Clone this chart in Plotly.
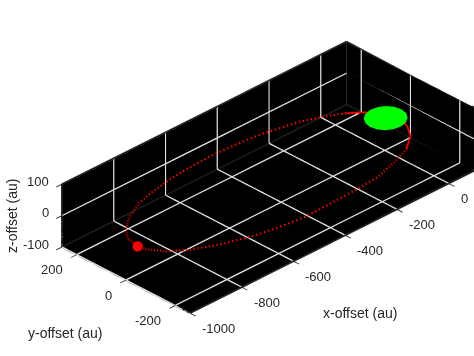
import plotly.graph_objects as go

orbit_x = [-954.1,-953.2,-934.8,-887.1,-818.2,-760.2,-697.5,-624.6,-508.8,-434,-385,-314.1,-200.4,-129.7,-64.9,-14.1,6,46.5,44.3,19.9,-30.8,-99.4,-183.4,-274.3,-375.2,-474.9,-564.7,-644.4,-751.1,-846.7,-901.6,-945.4,-954.1]
orbit_y = [1.1,39.3,69,106.7,137,149.4,160.1,167.7,172.5,168.9,167,159.3,140.4,119.3,93.5,65.3,45.7,-1,-43.2,-84,-119.8,-141.8,-162.3,-168.2,-171.1,-172.8,-164.3,-152.4,-126.5,-92.1,-61.3,-19.5,1.1]
orbit_z = [-11.7,-4,1.9,9.4,15.5,18,20.1,21.6,22.6,21.9,21.5,19.9,16.2,11.9,6.8,1.1,-2.8,-12.1,-20.6,-28.7,-35.9,-40.3,-44.4,-45.6,-46.1,-46.5,-44.8,-42.4,-37.2,-30.3,-24.2,-15.8,-11.7]
solid_from, solid_to = 14, 21
disc_x = [29.6,8.3,-16.2,-40.8,-61.5,-74.8,-79.2,-73.7,-59.2,-37.9,-13.4,11.2,31.9,45.2,49.6,44.1]
disc_y = [-62.2,-77.2,-83.3,-79.6,-67.2,-47,-22.7,1.6,23.2,38.2,44.3,40.6,28.2,8,-16.3,-40.6]
disc_z = [17]*16
x_ticks = [-1000,-800,-600,-400,-200,0]
y_ticks = [-200,0,200]
z_ticks = [-100,0,100]
x_range = [-1000,100]
y_range = [-260,260]
z_range = [-100,100]
INK = "#262626"
GRID = "#dedede"
FONT = "Liberation Sans"

x0,x1 = x_range; y0,y1 = y_range; z0,z1 = z_range
frame_x = [x0,x1,x1,x0,x0,None,x0,x0,x1,x1,x1,None,x1,x1,None]
frame_y = [y0,y0,y1,y1,y0,None,y1,y1,y1,y0,y0,None,y1,y1,None]
frame_z = [z0,z0,z0,z0,z0,None,z0,z1,z1,z1,z0,None,z0,z1,None]

grid_x, grid_y, grid_z = [], [], []
def seg(a, b):
    grid_x.extend([a[0], b[0], None]); grid_y.extend([a[1], b[1], None]); grid_z.extend([a[2], b[2], None])
for t in x_ticks:
    seg((t,y0,z0),(t,y1,z0)); seg((t,y1,z0),(t,y1,z1))
for t in y_ticks:
    seg((x0,t,z0),(x1,t,z0)); seg((x1,t,z0),(x1,t,z1))
for t in z_ticks[1:-1]:
    seg((x0,y1,t),(x1,y1,t)); seg((x1,y1,t),(x1,y0,t))

fig = go.Figure()
fig.add_trace(go.Scatter3d(x=grid_x,y=grid_y,z=grid_z,mode="lines",line=dict(color=GRID,width=3),showlegend=False,hoverinfo="skip"))
fig.add_trace(go.Scatter3d(x=frame_x,y=frame_y,z=frame_z,mode="lines",line=dict(color=INK,width=3.5),showlegend=False,hoverinfo="skip"))
fig.add_trace(go.Scatter3d(x=orbit_x,y=orbit_y,z=orbit_z,mode="lines",line=dict(color="#ff0000",width=4.5,dash="dot"),showlegend=False))
fig.add_trace(go.Scatter3d(x=orbit_x[solid_from:solid_to],y=orbit_y[solid_from:solid_to],z=orbit_z[solid_from:solid_to],mode="lines",line=dict(color="#ff0000",width=3),showlegend=False))
fig.add_trace(go.Mesh3d(x=disc_x,y=disc_y,z=disc_z,color="#00ff00",flatshading=True,lighting=dict(ambient=1,diffuse=0,specular=0,fresnel=0),showscale=False))
fig.add_trace(go.Scatter3d(x=orbit_x[:1],y=orbit_y[:1],z=orbit_z[:1],mode="markers",marker=dict(color="#ff0000",size=6),showlegend=False))

def ax(rng,ticks):
    return dict(range=rng,tickvals=ticks,title=dict(text=""),showticklabels=False,showbackground=True,backgroundcolor="#000000",
                showgrid=False,zeroline=False,showline=False,ticks="outside",ticklen=8,tickwidth=2,tickcolor=INK,
                showspikes=False)

tf = dict(family=FONT,size=13,color=INK)
labels = []
for t in x_ticks:
    labels.append(dict(x=t,y=y0,z=z0,text=str(t),showarrow=False,xanchor="left",yanchor="middle",xshift=10,yshift=-15,font=tf))
for t in y_ticks:
    labels.append(dict(x=x0,y=t,z=z0,text=str(t),showarrow=False,xanchor="right",yanchor="middle",xshift=-12,yshift=-15,font=tf))
for t in z_ticks:
    labels.append(dict(x=x0,y=y1,z=t,text=str(t),showarrow=False,xanchor="right",yanchor="middle",xshift=-11,yshift=3,font=tf))

def title(text,px,py,angle=0):
    return dict(text=text,x=px/474,y=1-py/356,xref="paper",yref="paper",xanchor="center",yanchor="middle",showarrow=False,textangle=angle,font=dict(family=FONT,size=14,color=INK))

cx,cy,cz = -0.127,0.1214,-0.0025
fig.update_layout(width=474,height=356,margin=dict(l=0,r=0,t=0,b=0),paper_bgcolor="white",showlegend=False,
    scene=dict(domain=dict(x=[0,1],y=[0,1]),annotations=labels,
        xaxis=ax(x_range,x_ticks),yaxis=ax(y_range,y_ticks),zaxis=ax(z_range,z_ticks),
        aspectmode="manual",aspectratio=dict(x=2.245,y=1.025,z=0.41),
        camera=dict(projection=dict(type="orthographic"),eye=dict(x=-0.604*2+cx,y=-0.613*2+cy,z=0.508*2+cz),up=dict(x=0,y=0,z=1),center=dict(x=cx,y=cy,z=cz))),
    annotations=[title("x-offset (au)",360,313),title("y-offset (au)",65,333),title("z-offset (au)",12,216,-90)])
fig.write_html("out.html",config=dict(displayModeBar=False),post_script="document.body.style.margin='0';window.dispatchEvent(new Event('resize'));")
